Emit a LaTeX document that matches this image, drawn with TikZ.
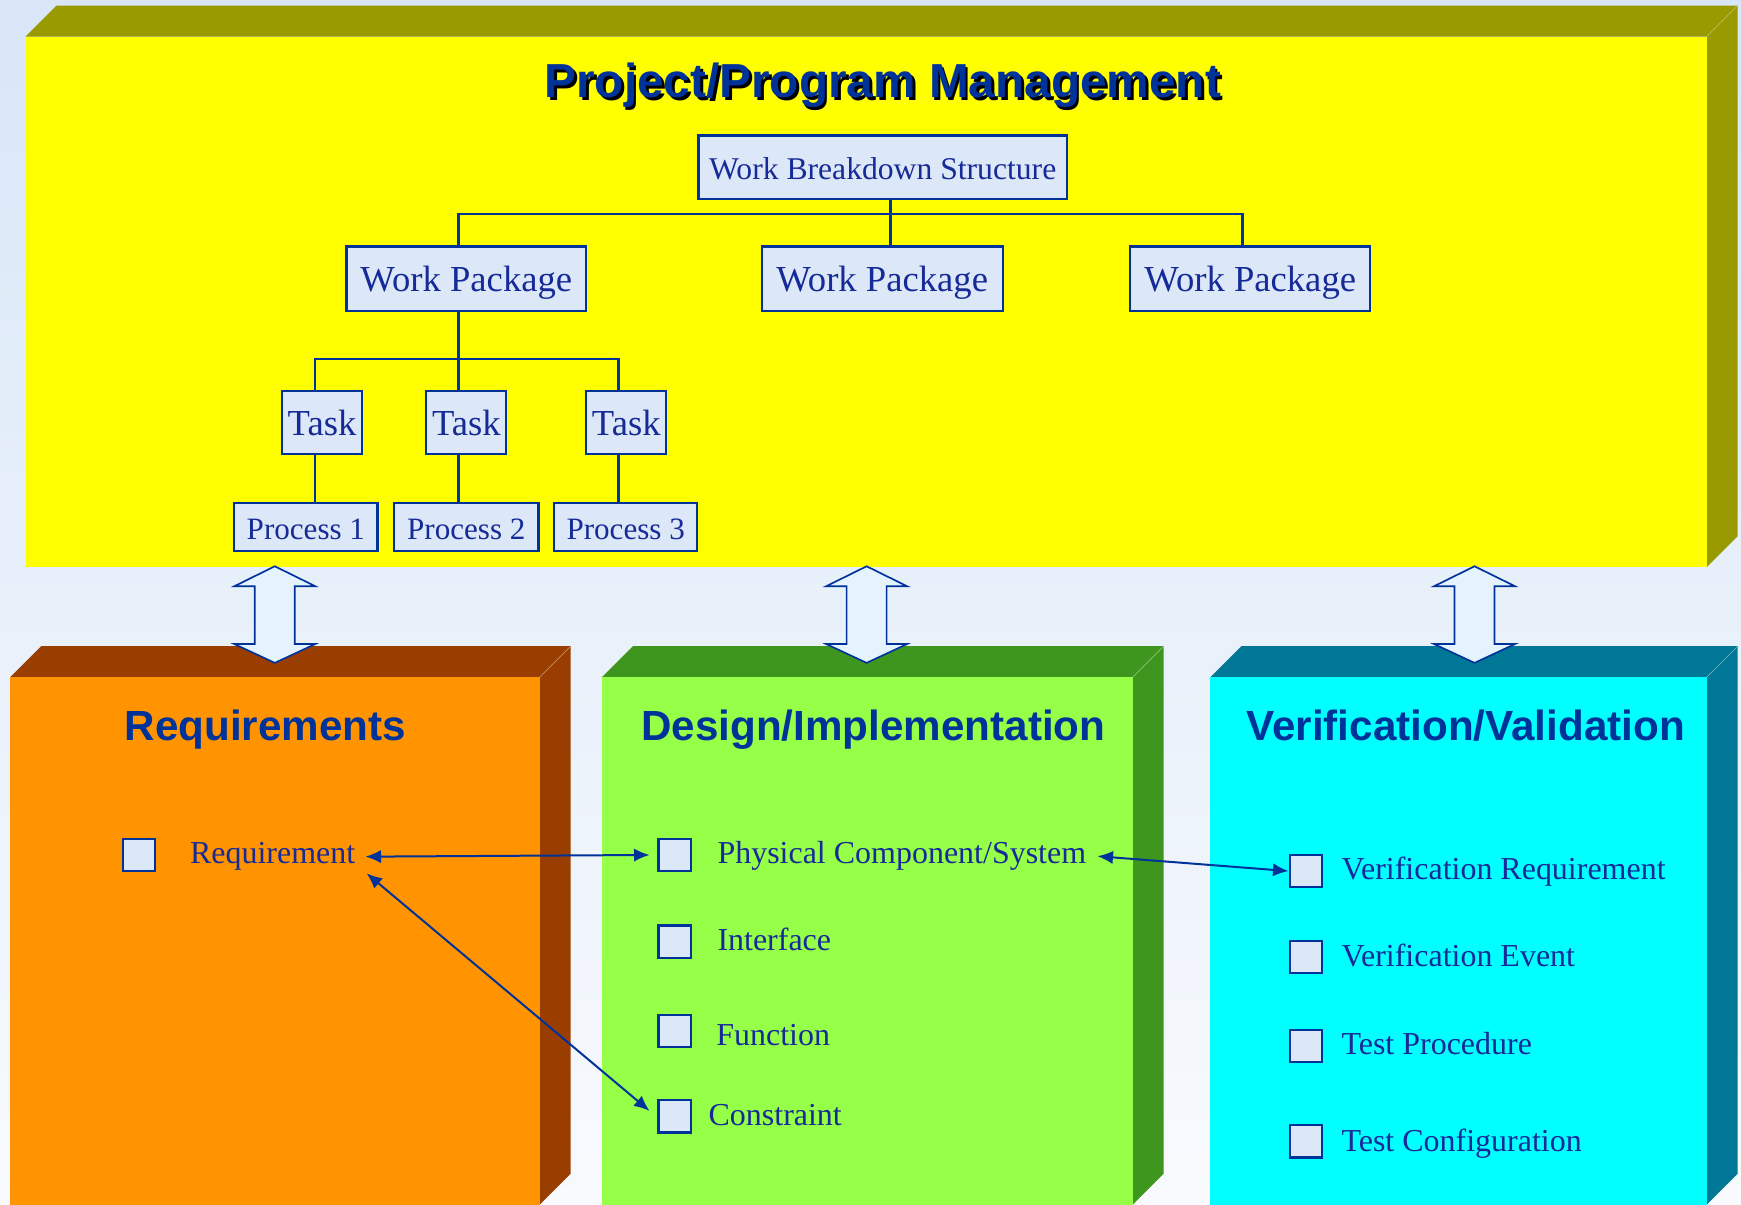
\documentclass[tikz,border=0pt]{standalone}
\usepackage{fontspec}
\setmainfont{Liberation Serif}
\newfontfamily\hsans{Liberation Sans}
\usetikzlibrary{arrows.meta,calc}

\definecolor{bgtop}{RGB}{216,230,247}
\definecolor{bgbot}{RGB}{248,250,253}
\definecolor{ylwfront}{RGB}{255,255,0}
\definecolor{ylwside}{RGB}{153,153,0}
\definecolor{orgfront}{RGB}{255,147,0}
\definecolor{orgside}{RGB}{153,61,0}
\definecolor{grnfront}{RGB}{150,255,71}
\definecolor{grnside}{RGB}{63,150,30}
\definecolor{cyafront}{RGB}{0,255,255}
\definecolor{cyaside}{RGB}{0,119,150}
\definecolor{boxfill}{RGB}{220,232,247}
\definecolor{arrfill}{RGB}{228,243,253}
\definecolor{dblue}{RGB}{0,51,153}
\definecolor{tblue}{RGB}{22,42,152}

\newcommand{\solidblock}[6]{%
  \fill[#6] (#1,#2) -- (#1+28,#2-28) -- (#3+28,#2-28) -- (#3,#2) -- cycle;
  \fill[#6] (#3,#2) -- (#3+28,#2-28) -- (#3+28,#4-28) -- (#3,#4) -- cycle;
  \draw[#6!60!white, line width=0.6pt] (#3,#2) -- (#3+28,#2-28);
  \fill[#5] (#1,#2) rectangle (#3,#4);
}
\newcommand{\dblarrow}[1]{%
  \draw[blockarrow] (#1,510) -- (#1+36.5,528) -- (#1+18,528) -- (#1+18,580)
    -- (#1+36.5,580) -- (#1,597) -- (#1-36.5,580) -- (#1-18,580)
    -- (#1-18,528) -- (#1-36.5,528) -- cycle;
}

\tikzset{
  wbsbox/.style={draw=dblue, line width=2pt, fill=boxfill, text=tblue,
    inner sep=0pt, text height=23pt, text depth=0pt},
  wbsline/.style={draw=dblue, line width=2pt},
  blockarrow/.style={draw=dblue, line width=1.5pt, fill=arrfill, line join=miter},
  sq/.style={draw=dblue, line width=2pt, fill=boxfill, minimum width=29pt,
    minimum height=29pt, inner sep=0pt},
  itemtxt/.style={text=tblue, inner sep=0pt, anchor=base west,
    font=\fontsize{28.8}{34}\selectfont},
  blocktitle/.style={text=dblue, inner sep=0pt, anchor=base,
    font=\hsans\bfseries\fontsize{38}{44}\selectfont},
  link/.style={draw=dblue, line width=1.8pt,
    {Latex[length=14pt,width=12pt]}-{Latex[length=14pt,width=12pt]}},
}

\begin{document}
\begin{tikzpicture}[x=1pt,y=-1pt]
\useasboundingbox (0,0) rectangle (1568,1085);
\shade[top color=bgtop, bottom color=bgbot] (0,0) rectangle (1568,1085);

% ---------- top block ----------
\solidblock{23}{33}{1537}{511}{ylwfront}{ylwside}
\node[font=\hsans\bfseries\fontsize{43}{50}\selectfont, text=black, anchor=base, inner sep=0pt]
  (pmshadow) at (797.5,90.5) {Project/Program Management};
\node[font=\hsans\bfseries\fontsize{43}{50}\selectfont, text=dblue, anchor=base, inner sep=0pt]
  (pm) at (795,88) {Project/Program Management};

\node[wbsbox, minimum width=332pt, minimum height=57pt, font=\fontsize{28.5}{34}\selectfont]
  (wbs) at (795,150.5) {Work Breakdown Structure};
\node[wbsbox, minimum width=216pt, minimum height=58pt, font=\fontsize{33}{38}\selectfont]
  (wp1) at (420,251) {Work Package};
\node[wbsbox, minimum width=217pt, minimum height=58pt, font=\fontsize{33}{38}\selectfont]
  (wp2) at (794.5,251) {Work Package};
\node[wbsbox, minimum width=216pt, minimum height=58pt, font=\fontsize{33}{38}\selectfont]
  (wp3) at (1126,251) {Work Package};
\node[wbsbox, minimum width=72pt, minimum height=57pt, font=\fontsize{33}{38}\selectfont]
  (t1) at (290,380.5) {Task};
\node[wbsbox, minimum width=72pt, minimum height=57pt, font=\fontsize{33}{38}\selectfont]
  (t2) at (420,380.5) {Task};
\node[wbsbox, minimum width=72pt, minimum height=57pt, font=\fontsize{33}{38}\selectfont]
  (t3) at (564,380.5) {Task};
\node[wbsbox, minimum width=129pt, minimum height=43pt, font=\fontsize{28}{33}\selectfont]
  (p1) at (275.5,474.5) {Process 1};
\node[wbsbox, minimum width=130pt, minimum height=43pt, font=\fontsize{28}{33}\selectfont]
  (p2) at (420,474.5) {Process 2};
\node[wbsbox, minimum width=129pt, minimum height=43pt, font=\fontsize{28}{33}\selectfont]
  (p3) at (563.5,474.5) {Process 3};

\coordinate (bM) at (802,193);
\coordinate (bL) at (413,193);
\coordinate (bR) at (1119,193);
\draw[wbsline] (bM |- wbs.south) -- (bM |- wp2.north);
\draw[wbsline] (bL |- wp1.north) -- (bL) -- (bR) -- (bR |- wp3.north);

\coordinate (tM) at (413,323);
\coordinate (tL) at (284,323);
\coordinate (tR) at (557,323);
\draw[wbsline] (tM |- wp1.south) -- (tM |- t2.north);
\draw[wbsline] (tL |- t1.north) -- (tL) -- (tR) -- (tR |- t3.north);
\draw[wbsline] (tL |- t1.south) -- (tL |- p1.north);
\draw[wbsline] (tM |- t2.south) -- (tM |- p2.north);
\draw[wbsline] (tR |- t3.south) -- (tR |- p3.north);

% ---------- bottom blocks ----------
\solidblock{9}{610}{486}{1085}{orgfront}{orgside}
\solidblock{542}{610}{1020}{1085}{grnfront}{grnside}
\solidblock{1090}{610}{1537}{1085}{cyafront}{cyaside}

\dblarrow{247.5}
\dblarrow{780.5}
\dblarrow{1328}

\node[blocktitle] (reqtitle) at (239,667) {Requirements};
\node[blocktitle] (destitle) at (786.5,667) {Design/Implementation};
\node[blocktitle] (vertitle) at (1320,667) {Verification/Validation};

% Requirements items
\node[sq] (rsq) at (125,770) {};
\node[itemtxt] (rtxt) at (171,778) {Requirement};

% Design items
\node[sq] (physq) at (607.5,770) {};
\node[itemtxt] (phytxt) at (646,778) {Physical Component/System};
\node[sq] (intsq) at (607.5,848) {};
\node[itemtxt] (inttxt) at (646,856) {Interface};
\node[sq] (funsq) at (607.5,928.5) {};
\node[itemtxt] (funtxt) at (645,942) {Function};
\node[sq] (consq) at (607.5,1005.5) {};
\node[itemtxt] (contxt) at (638,1014) {Constraint};

% Verification items
\node[sq] (vrsq) at (1176,784.5) {};
\node[itemtxt] (vrtxt) at (1208,792) {Verification Requirement};
\node[sq] (vesq) at (1176,862) {};
\node[itemtxt] (vetxt) at (1208,870) {Verification Event};
\node[sq] (tpsq) at (1176,942) {};
\node[itemtxt] (tptxt) at (1208,950) {Test Procedure};
\node[sq] (tcsq) at (1176,1028) {};
\node[itemtxt] (tctxt) at (1208,1037) {Test Configuration};

% links
\draw[link] ([xshift=9pt]rtxt.east) -- ([xshift=-7pt]physq.west);
\draw[link] ([xshift=10pt,yshift=-15pt]rtxt.east) -- ([xshift=-7pt,yshift=5pt]consq.west);
\draw[link] ([xshift=10pt]phytxt.east) -- (vrsq.west);
\end{tikzpicture}
\end{document}
